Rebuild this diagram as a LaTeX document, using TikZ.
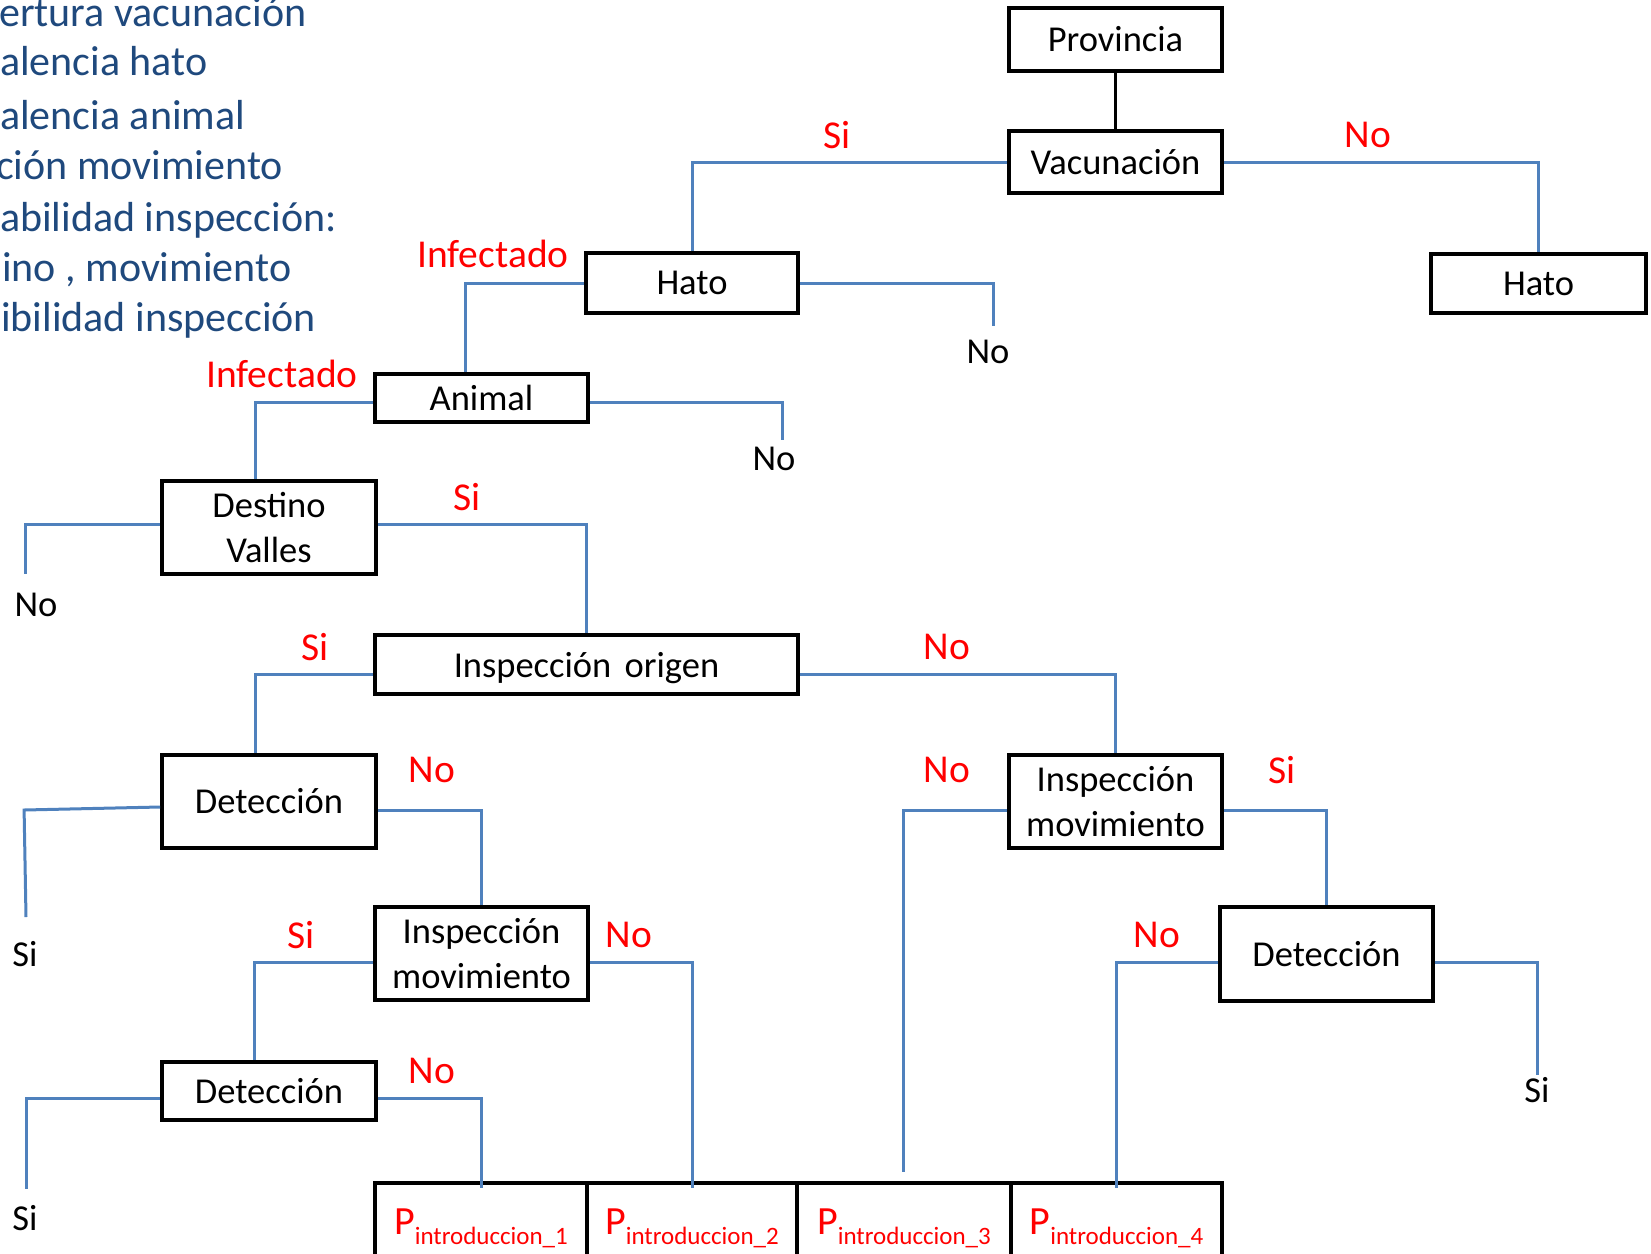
\documentclass[tikz,border=0pt]{standalone}
\usepackage{fontspec}
\setmainfont{Carlito}
\usetikzlibrary{calc}
\definecolor{lnblue}{HTML}{4F81BD}
\definecolor{txtblue}{HTML}{1F497D}
\definecolor{lblred}{HTML}{FF0000}
\begin{document}
\begin{tikzpicture}[x=1pt,y=-1pt,
  box/.style={draw=black, line width=3.8pt, inner sep=0pt, align=center, font=\fontsize{36.5}{45}\selectfont},
  pbox/.style={draw=black, line width=3.8pt, inner xsep=0pt, inner ysep=0pt, text height=52pt, text depth=30pt, font=\fontsize{40}{48}\selectfont, text=lblred, anchor=north},
  conn/.style={draw=lnblue, line width=3pt},
  lblR/.style={text=lblred, font=\fontsize{39.5}{45}\selectfont, inner sep=0pt},
  endl/.style={text=black, font=\fontsize{36.5}{42}\selectfont, inner sep=0pt},
  legend/.style={text=txtblue, font=\fontsize{42}{50}\selectfont, anchor=base west, inner sep=0pt}
]
\useasboundingbox (0,0) rectangle (1651,1253);

% legend text (cut at left edge)
\node[legend] (l1) at (-1,26) {ertura vacunación};
\node[legend] (l2) at (0,75) {alencia hato};
\node[legend] (l3) at (0,129) {alencia animal};
\node[legend] (l4) at (-4,179) {ción movimiento};
\node[legend] (l5) at (0,231) {abilidad inspección:};
\node[legend] (l6) at (2,281) {ino , movimiento};
\node[legend] (l7) at (1,331) {ibilidad inspección};

% boxes
\node[box, minimum width=213pt, minimum height=63pt] (prov) at (1115.5,39.5) {Provincia};
\node[box, minimum width=213pt, minimum height=62pt] (vac) at (1115.5,162) {Vacunación};
\node[box, minimum width=212pt, minimum height=60pt] (hatoL) at (692,283) {Hato};
\node[box, minimum width=215pt, minimum height=59pt] (hatoR) at (1538.5,283.5) {Hato};
\node[box, minimum width=213pt, minimum height=48pt] (animal) at (481.5,398) {Animal};
\node[box, minimum width=214pt, minimum height=93pt] (dest) at (269,527.5) {Destino\\Valles};
\node[box, minimum width=423pt, minimum height=59pt, text depth=0pt] (inso) at (586.5,664.5) {Inspección\hspace{5pt} origen};
\node[box, minimum width=214pt, minimum height=93pt] (det1) at (269,801.5) {Detección};
\node[box, minimum width=213pt, minimum height=93pt] (imr) at (1115.5,801.5) {Inspección\\movimiento};
\node[box, minimum width=213pt, minimum height=93pt] (imm) at (481.5,953.5) {Inspección\\movimiento};
\node[box, minimum width=213pt, minimum height=94pt] (detr) at (1326.5,954) {Detección};
\node[box, minimum width=214pt, minimum height=58pt] (det2) at (269,1091) {Detección};

\node[pbox, minimum width=212pt] (p1) at (481,1181) {P\raisebox{-10pt}{\fontsize{25}{30}\selectfont introduccion\_1}};
\node[pbox, minimum width=210pt] (p2) at (692,1181) {P\raisebox{-10pt}{\fontsize{25}{30}\selectfont introduccion\_2}};
\node[pbox, minimum width=214pt] (p3) at (904,1181) {P\raisebox{-10pt}{\fontsize{25}{30}\selectfont introduccion\_3}};
\node[pbox, minimum width=211pt] (p4) at (1116.5,1181) {P\raisebox{-10pt}{\fontsize{25}{30}\selectfont introduccion\_4}};

% free ends
\coordinate (endA) at (993,326);
\coordinate (endB) at (782,440);
\coordinate (endC) at (25,574);
\coordinate (endD) at (26,917);
\coordinate (endE) at (26,1189);
\coordinate (endF) at (903,1172);
\coordinate (endG) at (1537,1075);

% connectors
\draw[black, line width=3pt] (prov.south) -- (vac.north);
\draw[conn] (vac.west) -| (hatoL.north);
\draw[conn] (vac.east) -| (hatoR.north);
\draw[conn] (hatoL.west) -| ([xshift=-16pt]animal.north);
\draw[conn] (hatoL.east) -| (endA);
\draw[conn] ([yshift=-4pt]animal.west) -| ([xshift=-14pt]dest.north);
\draw[conn] ([yshift=-4pt]animal.east) -| (endB);
\draw[conn] ([yshift=3.5pt]dest.west) -| (endC);
\draw[conn] ([yshift=3.5pt]dest.east) -| (inso.north);
\draw[conn] ([yshift=-9.5pt]inso.west) -| ([xshift=-14pt]det1.north);
\draw[conn] ([yshift=-9.5pt]inso.east) -| (imr.north);
\draw[conn] ([yshift=-5.5pt]det1.west) -- ++(-136,3) -- (endD);
\draw[conn] ([yshift=-8.5pt]det1.east) -| (imm.north);
\draw[conn] ([yshift=-8.5pt]imm.west) -| ([xshift=-15pt]det2.north);
\draw[conn] ([yshift=-8.5pt]imm.east) -| ([yshift=-7pt]p2.north);
\draw[conn] ([yshift=-7pt]det2.west) -| (endE);
\draw[conn] ([yshift=-7pt]det2.east) -| ([yshift=-7pt]p1.north);
\draw[conn] ([yshift=-8.5pt]imr.west) -| (endF);
\draw[conn] ([yshift=-8.5pt]imr.east) -| (detr.north);
\draw[conn] ([yshift=-8pt]detr.west) -| ([yshift=-7pt]p4.north);
\draw[conn] ([yshift=-8pt]detr.east) -| (endG);

% red labels
\node[lblR] (tSi1) at (837,135) {Si};
\node[lblR] (tNo1) at (1368,135) {No};
\node[lblR] (tInf1) at (493,254) {Infectado};
\node[lblR] (tInf2) at (282,374) {Infectado};
\node[lblR] (tSi2) at (467,497) {Si};
\node[lblR] (tSi3) at (315,647) {Si};
\node[lblR] (tNo2) at (947,647) {No};
\node[lblR] (tNo3) at (432,770) {No};
\node[lblR] (tNo4) at (947,770) {No};
\node[lblR] (tSi4) at (1282,770) {Si};
\node[lblR] (tSi5) at (301,935) {Si};
\node[lblR] (tNo5) at (629,935) {No};
\node[lblR] (tNo6) at (1157,935) {No};
\node[lblR] (tNo7) at (432,1071) {No};

% end labels
\node[endl] (eNo1) at (988,352) {No};
\node[endl] (eNo2) at (774,459) {No};
\node[endl] (eNo3) at (36,605) {No};
\node[endl] (eSi1) at (25,954) {Si};
\node[endl] (eSi2) at (1537,1090) {Si};
\node[endl] (eSi3) at (25,1218) {Si};
\end{tikzpicture}
\end{document}
